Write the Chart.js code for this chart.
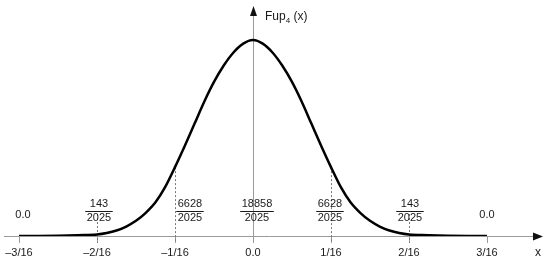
<!DOCTYPE html>
<html>
<head>
<meta charset="utf-8">
<script src="https://cdn.jsdelivr.net/npm/chart.js@4"></script>
<style>
  body { margin: 0; background: #fff; }
  #wrap { width: 550px; height: 261px; }
</style>
</head>
<body>
<div id="wrap"><canvas id="myChart"></canvas></div>
<script>
// curve, x in sixteenths
const xs16 = [-3, -2.75, -2.5, -2.25, -2, -1.875, -1.75, -1.625, -1.5, -1.375, -1.25, -1.125, -1, -0.875, -0.75, -0.625, -0.5, -0.375, -0.25, -0.125,
  0, 0.125, 0.25, 0.375, 0.5, 0.625, 0.75, 0.875, 1, 1.125, 1.25, 1.375, 1.5, 1.625, 1.75, 1.875, 2, 2.25, 2.5, 2.75, 3];
const fupValues = [0, 0.004, 0.016, 0.04, 0.0706, 0.14, 0.26, 0.45, 0.72, 1.10, 1.60, 2.33, 3.273, 4.28, 5.33, 6.38, 7.32, 8.10, 8.72, 9.14,
  9.3126, 9.14, 8.72, 8.10, 7.32, 6.38, 5.33, 4.28, 3.273, 2.33, 1.60, 1.10, 0.72, 0.45, 0.26, 0.14, 0.0706, 0.04, 0.016, 0.004, 0];

// tick marks and node labels
const tickPos16 = [-3, -2, -1, 0, 1, 2, 3];
const tickLabels = ['\u20133/16', '\u20132/16', '\u20131/16', '0.0', '1/16', '2/16', '3/16'];
const nodeNum = ['0.0', '143', '6628', '18858', '6628', '143', '0.0'];
const nodeDen = ['', '2025', '2025', '2025', '2025', '2025', ''];

const FONT = '"Liberation Sans", Arial, sans-serif';
const AXIS = '#9a9a9a';

const points = xs16.map((u, i) => ({ x: u / 16, y: fupValues[i] }));

const decor = {
  id: 'decor',
  beforeDatasetsDraw(chart) {
    const c = chart.ctx, xs = chart.scales.x, ys = chart.scales.y;
    const base = ys.getPixelForValue(0);
    const x0 = xs.getPixelForValue(0);
    const area = chart.chartArea;
    c.save();
    c.strokeStyle = AXIS;
    c.fillStyle = AXIS;
    c.lineWidth = 1;
    // x axis + arrow
    c.beginPath();
    c.moveTo(area.left, base + 0.5);
    c.lineTo(area.right - 8, base + 0.5);
    c.stroke();
    c.fillStyle = '#111';
    c.beginPath();
    c.moveTo(area.right, base + 0.5);
    c.lineTo(area.right - 10, base - 3.5);
    c.lineTo(area.right - 10, base + 4.5);
    c.closePath();
    c.fill();
    // y axis + arrow
    c.beginPath();
    c.moveTo(Math.round(x0) + 0.5, base + 7);
    c.lineTo(Math.round(x0) + 0.5, area.top + 8);
    c.stroke();
    c.beginPath();
    c.moveTo(Math.round(x0) + 0.5, area.top);
    c.lineTo(Math.round(x0) - 3, area.top + 10);
    c.lineTo(Math.round(x0) + 4, area.top + 10);
    c.closePath();
    c.fill();
    // ticks
    tickPos16.forEach(u => {
      const px = Math.round(xs.getPixelForValue(u / 16)) + 0.5;
      c.beginPath();
      c.moveTo(px, base);
      c.lineTo(px, base + 7);
      c.stroke();
    });
    // dotted guides at +-1/16 and +-2/16
    c.setLineDash([2, 2]);
    c.strokeStyle = '#777';
    tickPos16.forEach((u, i) => {
      if (u === 0 || !nodeDen[i]) return;
      const px = Math.round(xs.getPixelForValue(u / 16)) + 0.5;
      const v = Number(nodeNum[i]) / Number(nodeDen[i]);
      const top = Math.abs(u) === 1 ? ys.getPixelForValue(v) : base - 22;
      c.beginPath();
      c.moveTo(px, top);
      c.lineTo(px, base + 7);
      c.stroke();
    });
    c.restore();
  },
  afterDatasetsDraw(chart) {
    const c = chart.ctx, xs = chart.scales.x, ys = chart.scales.y;
    const base = ys.getPixelForValue(0);
    const x0 = xs.getPixelForValue(0);
    const area = chart.chartArea;
    const shift = [4, 2, 15, 4, -1, 1, 0];
    c.save();
    c.fillStyle = '#1a1a1a';
    c.textAlign = 'center';
    c.textBaseline = 'middle';
    c.font = '11px ' + FONT;
    tickPos16.forEach((u, i) => {
      const px = xs.getPixelForValue(u / 16);
      c.fillText(tickLabels[i], px, base + 17);
      const cx = px + shift[i];
      if (!nodeDen[i]) {
        c.fillText(nodeNum[i], cx, base - 21);
        return;
      }
      c.fillText(nodeNum[i], cx, base - 32);
      c.fillText(nodeDen[i], cx, base - 18);
      const w = Math.max(c.measureText(nodeNum[i]).width, c.measureText(nodeDen[i]).width) + 3;
      c.fillRect(cx - w / 2, base - 25, w, 1);
    });
    // axis names
    c.font = '12px ' + FONT;
    c.fillText('x', area.right - 5, base + 17);
    c.textAlign = 'left';
    let tx = x0 + 12;
    c.fillText('Fup', tx, 17);
    tx += c.measureText('Fup').width;
    c.font = '8px ' + FONT;
    c.fillText('4', tx, 21);
    tx += c.measureText('4').width;
    c.font = '12px ' + FONT;
    c.fillText(' (x)', tx, 17);
    c.restore();
  }
};

new Chart(document.getElementById('myChart'), {
  type: 'line',
  data: {
    datasets: [{
      data: points,
      borderColor: '#000',
      borderWidth: 2.5,
      pointRadius: 0,
      fill: false,
      cubicInterpolationMode: 'monotone'
    }]
  },
  options: {
    responsive: true,
    maintainAspectRatio: false,
    animation: false,
    layout: { padding: { left: 4, right: 7, top: 6, bottom: 25 } },
    scales: {
      x: { type: 'linear', min: -3.192 / 16, max: 3.718 / 16, display: false },
      y: { min: 0, max: 10.93, display: false }
    },
    plugins: { legend: { display: false }, tooltip: { enabled: false } }
  },
  plugins: [decor]
});
</script>
</body>
</html>
